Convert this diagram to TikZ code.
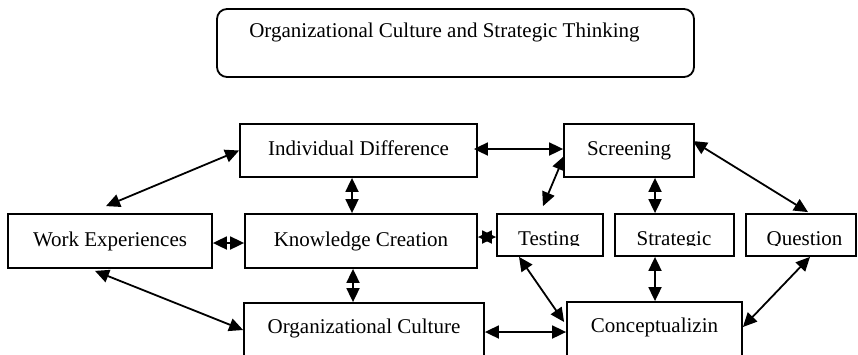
\documentclass[tikz,border=0pt]{standalone}
\usepackage{fontspec}
\setmainfont{Liberation Serif}
\usetikzlibrary{arrows.meta}
\begin{document}
\begin{tikzpicture}[x=1pt,y=-1pt,
  every node/.style={font=\fontsize{21}{25}\selectfont},
  box/.style={draw, line width=1.8pt, inner sep=0pt, rectangle},
  rowtext/.style={text height=15pt, text depth=5pt},
  lowtext/.style={text height=15pt, text depth=9pt},
  link/.style={line width=1.8pt,
    {Triangle[length=14pt,width=13pt]}-{Triangle[length=14pt,width=13pt]}},
]
\clip (0,0) rectangle (858,354);
\fill[white] (0,0) rectangle (858,354);

% heading
\node[box, rounded corners=10pt, minimum width=477pt, minimum height=68pt] (title) at (455.5,43) {};
\node[anchor=base] (titletext) at (444.5,37) {Organizational Culture and Strategic Thinking};

% top row
\node[box, rowtext, minimum width=237pt, minimum height=53pt] (ID) at (358.5,150.5) {Individual Difference};
\node[box, rowtext, minimum width=130pt, minimum height=53pt] (Scr) at (629,150.5) {Screening};

% middle row
\node[box, rowtext, minimum width=204pt, minimum height=54pt] (WE) at (110,241) {Work Experiences};
\node[box, rowtext, minimum width=232pt, minimum height=54pt] (KC) at (361,241) {Knowledge Creation};
\node[box, minimum width=106pt, minimum height=42pt] (Test) at (550,235) {};
\node[box, minimum width=119pt, minimum height=42pt] (Strat) at (674.5,235) {};
\node[box, minimum width=110pt, minimum height=42pt] (Q) at (801,235) {};

% labels of the short boxes, cut off at the bottom of their text frames
\begin{scope}
  \clip (490,220) rectangle (858,245.2);
  \node[anchor=base] (testtxt) at (549,245.5) {Testing};
  \node[anchor=base] (strattxt) at (674,245.5) {Strategic};
  \node[anchor=base] (qtxt) at (804.5,245.5) {Question};
\end{scope}

% bottom row
\node[box, lowtext, minimum width=240pt, minimum height=54pt] (OC) at (364,330) {Organizational Culture};
\node[box, lowtext, minimum width=175pt, minimum height=54pt] (Conc) at (654.5,329) {Conceptualizin};

% connectors
\draw[link] ([xshift=-4pt,yshift=7pt]WE.north) -- (ID.west);
\draw[link] ([xshift=-6.5pt]ID.south) -- ([xshift=-9pt]KC.north);
\draw[link] ([xshift=-8pt]KC.south) -- ([xshift=-11pt]OC.north);
\draw[link] ([yshift=-2pt]WE.east) -- ([yshift=-2pt]KC.west);
\draw[link] ([yshift=4pt]KC.east) -- ([yshift=-2pt]Test.west);
\draw[link] ([xshift=-4pt,yshift=1.5pt]ID.east) -- ([yshift=1.5pt]Scr.west);
\draw[link] ([xshift=-7pt,yshift=7pt]Test.north) -- ([xshift=1pt,yshift=-5.5pt]Scr.west);
\draw[link] ([xshift=26pt]Scr.south) -- ([xshift=-19.5pt]Strat.north);
\draw[link] ([xshift=-2pt,yshift=9.5pt]Scr.east) -- ([xshift=7pt,yshift=1pt]Q.north);
\draw[link] ([xshift=-31pt]Test.south) -- ([xshift=-2pt,yshift=7pt]Conc.west);
\draw[link] ([xshift=-19.5pt]Strat.south) -- ([xshift=0.5pt]Conc.north);
\draw[link] ([xshift=9pt]Q.south) -- ([yshift=2pt]Conc.east);
\draw[link] ([yshift=-2pt]OC.east) -- ([yshift=-3pt]Conc.west);
\draw[link] ([xshift=-15pt,yshift=-2pt]WE.south) -- (OC.west);
\end{tikzpicture}
\end{document}
